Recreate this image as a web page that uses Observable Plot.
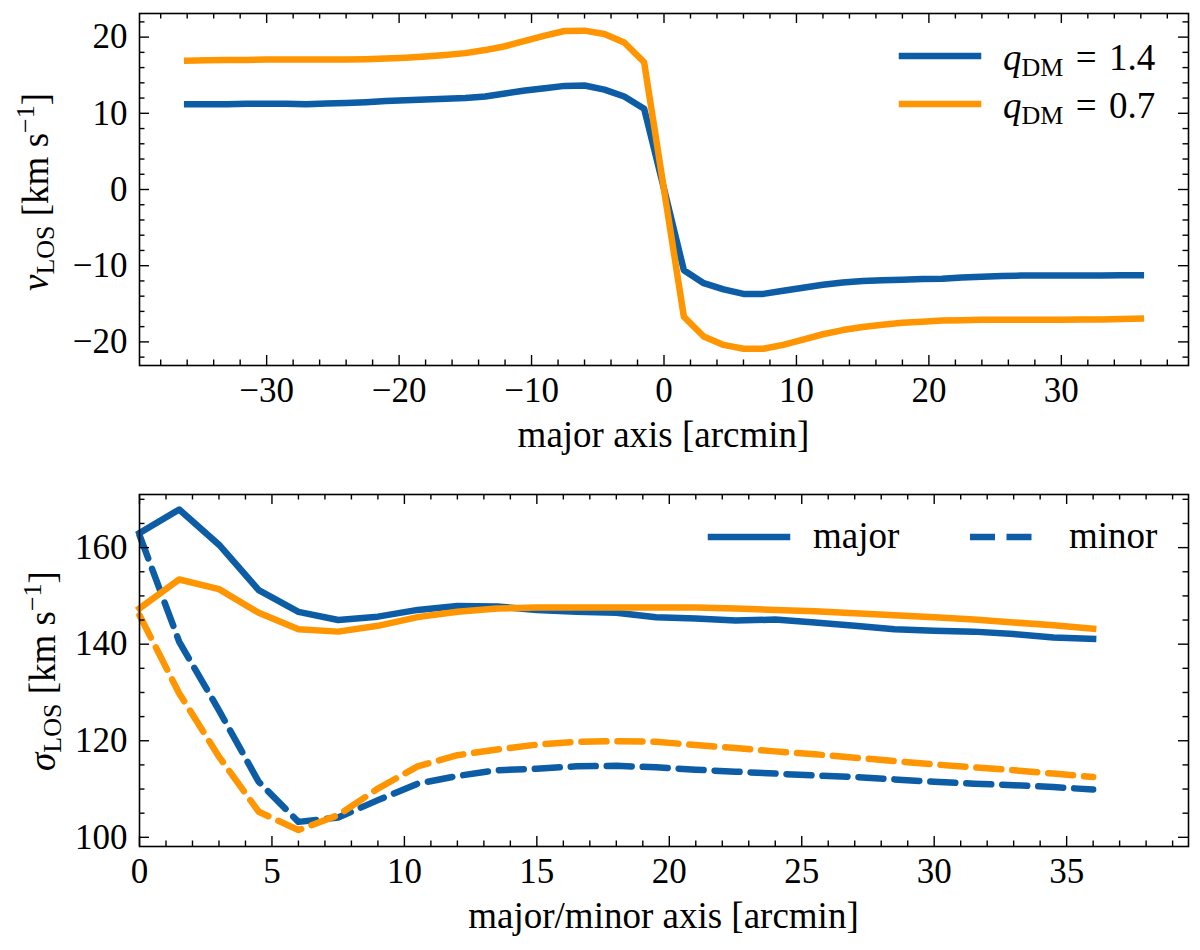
<!DOCTYPE html>
<html>
<head>
<meta charset="utf-8">
<script src="https://cdn.jsdelivr.net/npm/d3@7"></script>
<script src="https://cdn.jsdelivr.net/npm/@observablehq/plot@0.6"></script>
<style>
  body { margin: 0; background: #fff; }
  #chart { width: 1200px; height: 950px; }
  #chart svg { display: block; }
  #chart svg text, #chart svg tspan { font-family: "Liberation Serif", serif; }
</style>
</head>
<body>
<div id="chart"></div>
<script>
// top panel: line-of-sight velocity along the major axis
var posMajor = [-36, -34.5, -33, -31.5, -30, -28.5, -27, -25.5, -24, -22.5, -21, -19.5, -18, -16.5, -15, -13.5, -12, -10.5, -9, -7.5, -6, -4.5, -3, -1.5,
  0, 1.5, 3, 4.5, 6, 7.5, 9, 10.5, 12, 13.5, 15, 16.5, 18, 19.5, 21, 22.5, 24, 25.5, 27, 28.5, 30, 31.5, 33, 34.5, 36];
var vlosQ14 = [11.2, 11.2, 11.2, 11.25, 11.25, 11.25, 11.2, 11.3, 11.35, 11.45, 11.6, 11.7, 11.8, 11.9, 12.0, 12.2, 12.6, 13.0, 13.3, 13.6, 13.65, 13.1, 12.2, 10.6,
  0.1, -10.6, -12.3, -13.1, -13.7, -13.7, -13.3, -12.9, -12.5, -12.2, -12.0, -11.9, -11.85, -11.75, -11.7, -11.55, -11.45, -11.35, -11.3, -11.3, -11.3, -11.3, -11.3, -11.25, -11.25];
var vlosQ07 = [16.9, 16.95, 17.0, 17.0, 17.05, 17.05, 17.05, 17.05, 17.05, 17.1, 17.2, 17.3, 17.45, 17.65, 17.9, 18.3, 18.8, 19.5, 20.2, 20.8, 20.85, 20.4, 19.3, 16.7,
  0, -16.7, -19.3, -20.4, -20.9, -20.9, -20.4, -19.7, -19.0, -18.45, -18.05, -17.75, -17.5, -17.35, -17.2, -17.15, -17.1, -17.1, -17.1, -17.1, -17.1, -17.05, -17.05, -17.0, -16.95];

// bottom panel: velocity dispersion along major / minor axis
var posAxis = [0, 1.5, 3, 4.5, 6, 7.5, 9, 10.5, 12, 13.5, 15, 16.5, 18, 19.5, 21, 22.5, 24, 25.5, 27, 28.5, 30, 31.5, 33, 34.5, 36];
var sigQ14Major = [163.0, 167.9, 160.6, 151.2, 146.7, 145.0, 145.7, 147.1, 147.9, 147.8, 147.1, 146.7, 146.5, 145.6, 145.3, 144.9, 145.1, 144.5, 143.8, 143.1, 142.8, 142.6, 142.1, 141.4, 141.1];
var sigQ07Major = [147.4, 153.4, 151.4, 146.5, 143.1, 142.6, 143.8, 145.6, 146.7, 147.4, 147.6, 147.6, 147.6, 147.6, 147.6, 147.4, 147.1, 146.8, 146.4, 146.0, 145.6, 145.1, 144.5, 143.9, 143.2];
var sigQ14Minor = [162.6, 140.5, 126.3, 111.5, 103.2, 104.1, 107.7, 111.1, 112.7, 113.9, 114.2, 114.7, 114.8, 114.5, 114.0, 113.6, 113.2, 112.8, 112.5, 112.0, 111.5, 111.1, 110.8, 110.4, 109.9];
var sigQ07Minor = [146.0, 129.8, 116.7, 105.3, 101.5, 104.6, 110.1, 114.7, 117.0, 118.2, 119.2, 119.8, 119.9, 119.8, 119.1, 118.5, 117.8, 117.2, 116.5, 115.8, 115.1, 114.5, 113.9, 113.2, 112.5];

// tick values
var topXMajor = [-30, -20, -10, 0, 10, 20, 30];
var topXMinor = [-38, -36, -34, -32, -28, -26, -24, -22, -18, -16, -14, -12, -8, -6, -4, -2, 2, 4, 6, 8, 12, 14, 16, 18, 22, 24, 26, 28, 32, 34, 36, 38];
var topYMajor = [-20, -10, 0, 10, 20];
var topYMinor = [-22, -18, -16, -14, -12, -8, -6, -4, -2, 2, 4, 6, 8, 12, 14, 16, 18, 22];
var botXMajor = [0, 5, 10, 15, 20, 25, 30, 35];
var botXMinor = [1, 2, 3, 4, 6, 7, 8, 9, 11, 12, 13, 14, 16, 17, 18, 19, 21, 22, 23, 24, 26, 27, 28, 29, 31, 32, 33, 34, 36, 37, 38, 39];
var botYMajor = [100, 120, 140, 160];
var botYMinor = [105, 110, 115, 125, 130, 135, 145, 150, 155, 165, 170];

var BLUE = "#0C5DA5";
var ORANGE = "#FF9500";
var FONT = "Liberation Serif";
var FS = 35;     // tick labels
var LFS = 37;    // axis labels and legend
var SUB = 26;
var LW = 6.5;
var DASH = "25,11";

function rows(xs, ys) {
  return xs.map(function(x, i) { return {x: x, y: ys[i]}; });
}

// inward ticks on all four sides, plus frame and tick labels
function frameMarks(m, xMajor, xMinor, yMajor, yMinor) {
  var innerW = m.width - m.marginLeft - m.marginRight;
  var innerH = m.height - m.marginTop - m.marginBottom;
  var big = 10, small = 5.5, sw = 1.4;
  return [
    Plot.tickX(xMajor, {stroke: "black", strokeWidth: sw, insetTop: innerH - big}),
    Plot.tickX(xMajor, {stroke: "black", strokeWidth: sw, insetBottom: innerH - big}),
    Plot.tickX(xMinor, {stroke: "black", strokeWidth: sw, insetTop: innerH - small}),
    Plot.tickX(xMinor, {stroke: "black", strokeWidth: sw, insetBottom: innerH - small}),
    Plot.tickY(yMajor, {stroke: "black", strokeWidth: sw, insetRight: innerW - big}),
    Plot.tickY(yMajor, {stroke: "black", strokeWidth: sw, insetLeft: innerW - big}),
    Plot.tickY(yMinor, {stroke: "black", strokeWidth: sw, insetRight: innerW - small}),
    Plot.tickY(yMinor, {stroke: "black", strokeWidth: sw, insetLeft: innerW - small}),
    Plot.frame({stroke: "black", strokeWidth: 1.6}),
    Plot.axisX(xMajor, {tickSize: 0, tickPadding: 12, fontSize: FS, fontFamily: FONT, label: null, tickFormat: d3.format("d")}),
    Plot.axisY(yMajor, {tickSize: 0, tickPadding: 12, fontSize: FS, fontFamily: FONT, label: null, tickFormat: d3.format("d")})
  ];
}

function addText(svg, x, y, parts, rotate) {
  var t = d3.select(svg).append("text")
    .attr("transform", "translate(" + x + "," + y + ")" + (rotate ? " rotate(-90)" : ""))
    .attr("text-anchor", rotate ? "middle" : "start")
    .style("font-family", FONT)
    .style("font-size", LFS + "px")
    .attr("fill", "black");
  parts.forEach(function(p) {
    var s = t.append("tspan").text(p.t);
    if (p.italic) s.style("font-style", "italic");
    if (p.size) s.style("font-size", p.size + "px");
    if (p.dy) s.attr("dy", p.dy);
  });
  return t;
}

function legendLine(svg, x, y, len, color, dash) {
  d3.select(svg).append("line")
    .attr("x1", x).attr("x2", x + len).attr("y1", y).attr("y2", y)
    .attr("stroke", color).attr("stroke-width", LW)
    .attr("stroke-dasharray", dash || null)
    .attr("stroke-linecap", dash ? "butt" : "square");
}

var chart = document.getElementById("chart");

// ---- top panel ----
var topM = {width: 1200, height: 470, marginTop: 13, marginRight: 12, marginBottom: 105, marginLeft: 139};
var topPlot = Plot.plot(Object.assign({}, topM, {
  style: {fontFamily: FONT, fontSize: FS + "px", color: "black", background: "white"},
  x: {domain: [-39.6, 39.6], axis: null},
  y: {domain: [-23.1, 23.1], axis: null},
  marks: [
    Plot.line(rows(posMajor, vlosQ14), {x: "x", y: "y", stroke: BLUE, strokeWidth: LW, strokeLinejoin: "round", strokeLinecap: "square"}),
    Plot.line(rows(posMajor, vlosQ07), {x: "x", y: "y", stroke: ORANGE, strokeWidth: LW, strokeLinejoin: "round", strokeLinecap: "square"})
  ].concat(frameMarks(topM, topXMajor, topXMinor, topYMajor, topYMinor))
}));
chart.appendChild(topPlot);

addText(topPlot, 663.5, 447, [{t: "major axis [arcmin]"}]).attr("text-anchor", "middle");
addText(topPlot, 48, 192, [
  {t: "v", italic: true},
  {t: "LOS", size: SUB, dy: 6},
  {t: " [km s", dy: -6},
  {t: "\u22121", size: SUB, dy: -14},
  {t: "]", dy: 14}
], true);

legendLine(topPlot, 902, 56, 76, BLUE);
legendLine(topPlot, 902, 104, 76, ORANGE);
addText(topPlot, 1003, 70, [{t: "q", italic: true}, {t: "DM", size: SUB, dy: 6}, {t: "\u2004=\u20041.4", dy: -6}]);
addText(topPlot, 1003, 118, [{t: "q", italic: true}, {t: "DM", size: SUB, dy: 6}, {t: "\u2004=\u20040.7", dy: -6}]);

// ---- bottom panel ----
var botM = {width: 1200, height: 480, marginTop: 24, marginRight: 12, marginBottom: 104, marginLeft: 139};
var botPlot = Plot.plot(Object.assign({}, botM, {
  style: {fontFamily: FONT, fontSize: FS + "px", color: "black", background: "white"},
  x: {domain: [0, 39.6], axis: null},
  y: {domain: [98.1, 171.0], axis: null},
  marks: [
    Plot.line(rows(posAxis, sigQ14Major), {x: "x", y: "y", stroke: BLUE, strokeWidth: LW, strokeLinejoin: "round", strokeLinecap: "square"}),
    Plot.line(rows(posAxis, sigQ14Minor), {x: "x", y: "y", stroke: BLUE, strokeWidth: LW, strokeLinejoin: "round", strokeDasharray: DASH}),
    Plot.line(rows(posAxis, sigQ07Major), {x: "x", y: "y", stroke: ORANGE, strokeWidth: LW, strokeLinejoin: "round", strokeLinecap: "square"}),
    Plot.line(rows(posAxis, sigQ07Minor), {x: "x", y: "y", stroke: ORANGE, strokeWidth: LW, strokeLinejoin: "round", strokeDasharray: DASH})
  ].concat(frameMarks(botM, botXMajor, botXMinor, botYMajor, botYMinor))
}));
chart.appendChild(botPlot);

addText(botPlot, 663.5, 458, [{t: "major/minor axis [arcmin]"}]).attr("text-anchor", "middle");
addText(botPlot, 55, 201, [
  {t: "\u03c3", italic: true},
  {t: "LOS", size: SUB, dy: 6},
  {t: " [km s", dy: -6},
  {t: "\u22121", size: SUB, dy: -14},
  {t: "]", dy: 14}
], true);

legendLine(botPlot, 711, 67, 76, BLUE);
addText(botPlot, 813, 78, [{t: "major"}]);
legendLine(botPlot, 970, 67, 76, BLUE, "25,11.5,25,100");
addText(botPlot, 1069, 78, [{t: "minor"}]);
</script>
</body>
</html>
